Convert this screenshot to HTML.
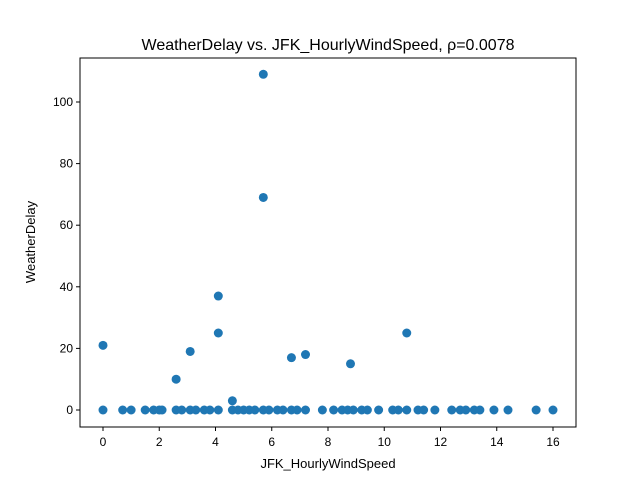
<!DOCTYPE html>
<html><head><meta charset="utf-8"><style>body{margin:0;background:#fff}svg{font-family:"Liberation Sans","DejaVu Sans",sans-serif}</style></head>
<body>
<svg id="chart" width="640" height="480">
<rect width="640" height="480" fill="#fff"/>
<text x="328" y="50" text-anchor="middle" font-size="16">WeatherDelay vs. JFK_HourlyWindSpeed, ρ=0.0078</text>
<g id="pts"></g>
<rect x="80" y="58" width="496" height="369" fill="none" stroke="#000" stroke-width="1"/>
<g id="xt"></g><g id="yt"></g>
<text x="328" y="468" text-anchor="middle" font-size="13">JFK_HourlyWindSpeed</text>
<text transform="translate(35,242) rotate(-90)" text-anchor="middle" font-size="13">WeatherDelay</text>
</svg>
<script>
const xs=[0,0.7,1,1.5,1.8,2,2.1,2.6,2.8,3.1,3.3,3.6,3.8,4.1,4.6,4.8,5,5.2,5.4,5.7,5.9,6.2,6.4,6.7,6.9,7.2,7.8,8.2,8.5,8.7,8.9,9.2,9.4,9.8,10.3,10.5,10.8,11.2,11.4,11.8,12.4,12.7,12.9,13.2,13.4,13.9,14.4,15.4,16,0,2.6,3.1,4.1,4.1,4.6,5.7,5.7,6.7,7.2,8.8,10.8];
const ys=[0,0,0,0,0,0,0,0,0,0,0,0,0,0,0,0,0,0,0,0,0,0,0,0,0,0,0,0,0,0,0,0,0,0,0,0,0,0,0,0,0,0,0,0,0,0,0,0,0,21,10,19,37,25,3,109,69,17,18,15,25];
const xTicks=[0,2,4,6,8,10,12,14,16];
const yTicks=[0,20,40,60,80,100];
const X=v=>103+v*28.125, Y=v=>410-v*3.08;
const NS='http://www.w3.org/2000/svg';
const pts=document.getElementById('pts'),xt=document.getElementById('xt'),yt=document.getElementById('yt');
xs.forEach((x,i)=>{const c=document.createElementNS(NS,'circle');c.setAttribute('cx',X(x));c.setAttribute('cy',Y(ys[i]));c.setAttribute('r',4.5);c.setAttribute('fill','#1f77b4');


pts.appendChild(c);});
xTicks.forEach(t=>{const l=document.createElementNS(NS,'line');l.setAttribute('x1',X(t));l.setAttribute('x2',X(t));l.setAttribute('y1',427);l.setAttribute('y2',431);l.setAttribute('stroke','#000');xt.appendChild(l);
const s=document.createElementNS(NS,'text');s.setAttribute('x',X(t));s.setAttribute('y',446);s.setAttribute('text-anchor','middle');s.setAttribute('font-size','12');s.textContent=t;


xt.appendChild(s);});
yTicks.forEach(t=>{const l=document.createElementNS(NS,'line');l.setAttribute('x1',76);l.setAttribute('x2',80);l.setAttribute('y1',Y(t));l.setAttribute('y2',Y(t));l.setAttribute('stroke','#000');yt.appendChild(l);
const s=document.createElementNS(NS,'text');s.setAttribute('x',73);s.setAttribute('y',Y(t)+4);s.setAttribute('text-anchor','end');s.setAttribute('font-size','12');s.textContent=t;


yt.appendChild(s);});
</script>
</body></html>
